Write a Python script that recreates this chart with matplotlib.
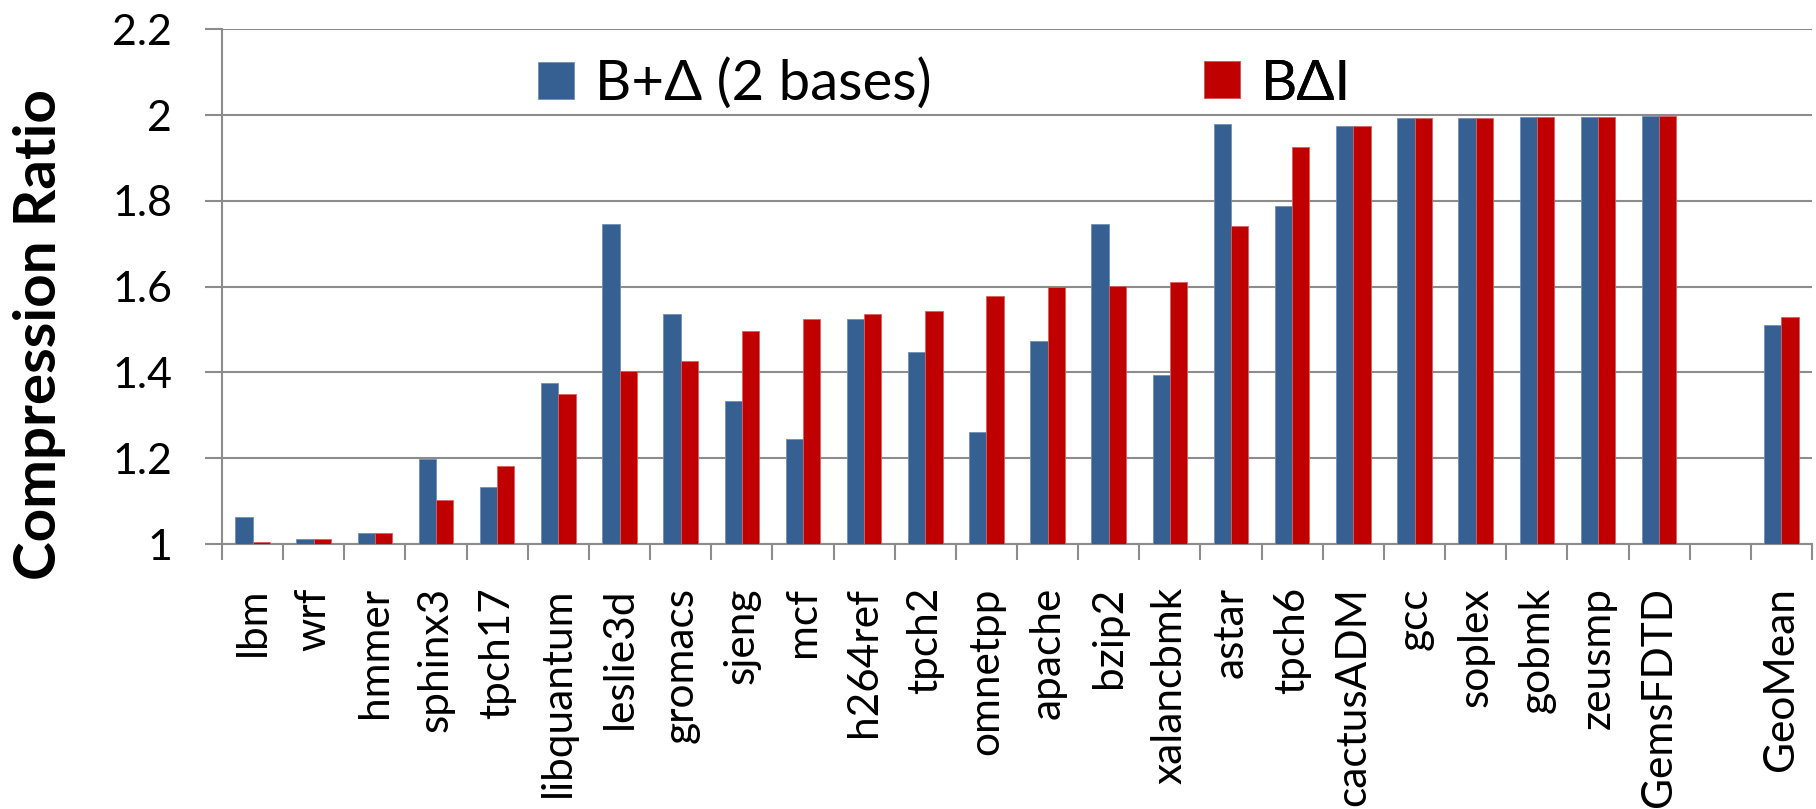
import numpy as np
import matplotlib
matplotlib.use("Agg")
import matplotlib.pyplot as plt

plt.rcParams['font.family'] = ['Lato', 'DejaVu Sans']

# Benchmarks (an empty slot separates the suite from the geometric mean)
benchmarks = ["lbm", "wrf", "hmmer", "sphinx3", "tpch17", "libquantum", "leslie3d",
              "gromacs", "sjeng", "mcf", "h264ref", "tpch2", "omnetpp", "apache",
              "bzip2", "xalancbmk", "astar", "tpch6", "cactusADM", "gcc", "soplex",
              "gobmk", "zeusmp", "GemsFDTD", "", "GeoMean"]

b_delta_2bases = [1.062, 1.012, 1.025, 1.198, 1.132, 1.375, 1.747, 1.535, 1.334, 1.244,
                  1.524, 1.447, 1.260, 1.474, 1.745, 1.395, 1.979, 1.787, 1.974, 1.992,
                  1.992, 1.995, 1.995, 1.997, np.nan, 1.511]
bdi = [1.004, 1.012, 1.025, 1.102, 1.182, 1.349, 1.404, 1.427, 1.497, 1.524,
       1.535, 1.542, 1.579, 1.599, 1.601, 1.610, 1.741, 1.926, 1.974, 1.992,
       1.992, 1.995, 1.995, 1.997, np.nan, 1.529]

series_labels = ["B+\u0394 (2 bases)", "B\u0394I"]
y_ticks = [1.0, 1.2, 1.4, 1.6, 1.8, 2.0, 2.2]
y_tick_labels = ["1", "1.2", "1.4", "1.6", "1.8", "2", "2.2"]

BLUE = "#376092"
RED = "#C00000"
GRID = "#8c8c8c"

W, H = 1816, 809
fig = plt.figure(figsize=(W / 100, H / 100), dpi=100)
ax_left, ax_right, ax_top, ax_bottom = 222, 1812, 29.2, 544
ax = fig.add_axes([ax_left / W, 1 - ax_bottom / H, (ax_right - ax_left) / W,
                   (ax_bottom - ax_top) / H])

x = np.arange(len(benchmarks))
bw = 0.283
blue_bars = ax.bar(x - bw / 2, b_delta_2bases, bw, bottom=0, color=BLUE,
                   edgecolor="#6f8fb8", linewidth=0.6, zorder=3)
red_bars = ax.bar(x + bw / 2, bdi, bw, bottom=0, color=RED,
                  edgecolor="#d95f5f", linewidth=0.6, zorder=3)

ax.set_xlim(-0.5, len(benchmarks) - 0.5)
ax.set_ylim(1.0, 2.2)

ax.set_yticks(y_ticks)
ax.set_yticklabels(y_tick_labels, fontsize=31)
ax.tick_params(axis='y', direction='out', length=12, width=1.5, color=GRID, pad=24)

ax.set_xticks(x)
ax.set_xticklabels(benchmarks, rotation=90, fontsize=30.5, va='top', ha='center')
ax.tick_params(axis='x', which='major', length=0, pad=31)
ax.set_xticks(np.arange(-0.5, len(benchmarks)), minor=True)
ax.tick_params(axis='x', which='minor', direction='out', length=11.5, width=1.5, color=GRID)

ax.yaxis.grid(True, color=GRID, linewidth=1.5, zorder=0)
ax.set_axisbelow(True)
for side in ("top", "right"):
    ax.spines[side].set_visible(False)
for side in ("left", "bottom"):
    ax.spines[side].set_color(GRID)
    ax.spines[side].set_linewidth(1.5)

fig.text(40 / W, 1 - 335 / H, "Compression Ratio", rotation=90, fontsize=42,
         fontweight='bold', ha='center', va='center')


def to_axes(px, py):
    """Convert figure pixel position (from top-left) to axes fraction."""
    return ((px - ax_left) / (ax_right - ax_left), (ax_bottom - py) / (ax_bottom - ax_top))


# One legend entry per series, each placed on its own
legend_fs = 40.5
for bars, label, (lx, ly) in zip((blue_bars, red_bars), series_labels,
                                 ((538, 84), (1204, 84))):
    leg = ax.legend([bars], [label], loc='center left', frameon=False,
                    fontsize=legend_fs, handlelength=0.64, handleheight=0.64,
                    handletextpad=0.38, borderpad=0, borderaxespad=0,
                    bbox_to_anchor=to_axes(lx, ly))
    ax.add_artist(leg)

fig.savefig("out.png", dpi=100)
